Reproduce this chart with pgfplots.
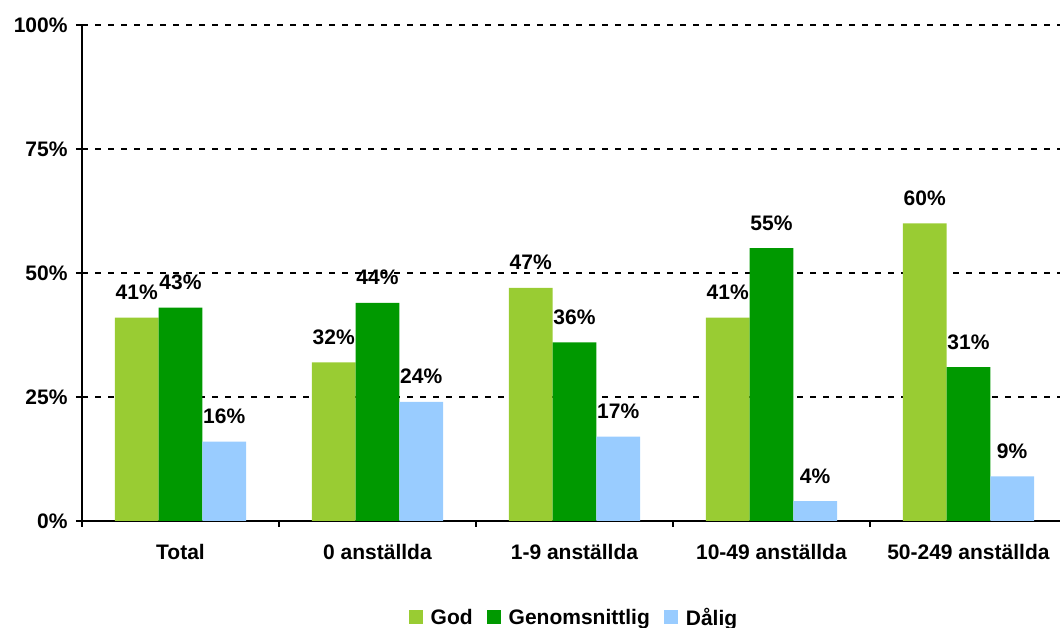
\documentclass[border=0pt]{standalone}
\usepackage{pgfplots}
\pgfplotsset{compat=1.18}
\usepackage{fontspec}
\setmainfont{Liberation Sans}
\definecolor{cgod}{HTML}{99CC33}
\definecolor{cgen}{HTML}{009900}
\definecolor{cdal}{HTML}{99CCFF}
\newcommand\lbl{\fontsize{21pt}{25pt}\selectfont\bfseries}
\begin{document}
\begin{tikzpicture}
\path[use as bounding box] (0,0) rectangle (1060pt,628pt);
\begin{axis}[
  at={(82pt,107pt)}, anchor=south west,
  scale only axis, width=978pt, height=496pt,
  xmin=-0.5, xmax=4.465, ymin=0, ymax=100,
  axis lines=left, axis line style={-, line width=2pt, black},
  ybar=0pt, bar width=0.222,
  /pgf/number format/assume math mode=true,
  ytick={0,25,50,75,100},
  yticklabels={0\%,25\%,50\%,75\%,100\%},
  xtick={0,1,2,3,4},
  xticklabels={Total,0 anställda,1-9 anställda,10-49 anställda,50-249 anställda},
  minor xtick={-0.5,0.5,1.5,2.5,3.5},
  major x tick style={draw=none},
  minor x tick style={draw=black, line width=2pt},
  ytick style={draw=black, line width=2pt},
  major tick length=6pt, minor tick length=6pt,
  tick align=outside,
  ticklabel style={font=\lbl},
  xticklabel style={yshift=-14pt},
  yticklabel style={xshift=-5pt},
  ymajorgrids,
  major grid style={black, line width=2pt, dash pattern=on 6pt off 7pt},
  nodes near coords={\pgfmathprintnumber{\pgfplotspointmeta}\%},
  every node near coord/.append style={font=\lbl, anchor=base, inner sep=0pt, yshift=18pt, black},
  legend style={draw=none, legend columns=-1, at={(0.503,-0.1946)}, anchor=center, font=\lbl,
    /tikz/every odd column/.append style={column sep=6pt},
    /tikz/every even column/.append style={column sep=12pt}},
  leg/.style={legend image code/.code={\fill[##1] (0pt,-6.5pt) rectangle (14pt,7.5pt);}},
]
\addplot[fill=cgod, draw=none, leg] coordinates {(0,41) (1,32) (2,47) (3,41) (4,60)};
\addlegendentry{God}
\addplot[fill=cgen, draw=none, leg] coordinates {(0,43) (1,44) (2,36) (3,55) (4,31)};
\addlegendentry{Genomsnittlig}
\addplot[fill=cdal, draw=none, leg] coordinates {(0,16) (1,24) (2,17) (3,4) (4,9)};
\addlegendentry{Dålig}
\end{axis}
\end{tikzpicture}
\end{document}
